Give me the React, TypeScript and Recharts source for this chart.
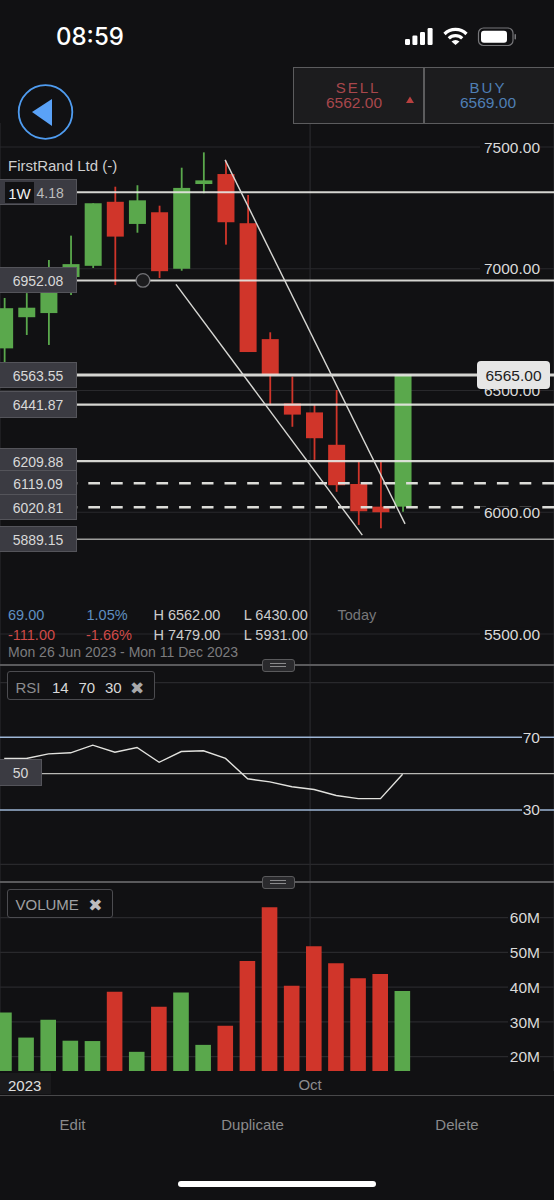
import React from "react";
import {
  Bar,
  BarChart,
  CartesianGrid,
  Cell,
  ComposedChart,
  Line,
  LineChart,
  ReferenceDot,
  ReferenceLine,
  XAxis,
  YAxis,
} from "recharts";

// weekly candles
const opens = [6673, 6801, 6818, 6966, 7012, 7275, 7184, 7232, 7000, 7348, 7389, 7187, 6711, 6447, 6410, 6277, 6116, 6023, 6023];
const highs = [6880, 6900, 7036, 7136, 7269, 7337, 7343, 7259, 7415, 7478, 7444, 7303, 6739, 6557, 6440, 6502, 6208, 6208, 6565];
const lows = [6613, 6728, 6687, 6892, 7003, 6933, 7148, 6962, 6992, 7310, 7099, 6658, 6440, 6351, 6215, 6084, 5948, 5934, 6002];
const closes = [6838, 6840, 6941, 7019, 7269, 7132, 7281, 6990, 7332, 7363, 7191, 6658, 6564, 6401, 6304, 6111, 6004, 6000, 6565];
const volumes = [32.7, 25.5, 30.6, 24.6, 24.5, 38.7, 21.4, 34.4, 38.5, 23.4, 28.9, 47.5, 63, 40.4, 51.8, 46.9, 42.6, 43.8, 38.9];
const rsiValues = [58.3, 58.3, 60.8, 61.4, 65.6, 61.7, 64.3, 56.2, 62.1, 62.5, 58.3, 47.1, 45.4, 42.7, 41.2, 37.9, 36.2, 36.2, 49.6];

const priceTicks = [5500, 6000, 6500, 7000, 7500];
const rsiTicks = [30, 70];
const rsiGrid = [0, 100];
const volumeTicks = [20, 30, 40, 50, 60];
const octTick = [13.82];

const solidLevels = [7314.18, 6952.08, 6563.55, 6441.87, 6209.88, 5889.15];
const levelWidths = [1.8, 2, 2.8, 2.3, 2.3, 1.5];
const dashedLevels = [6119.09, 6020.81];
const boxedLevels = ["6952.08", "6563.55", "6441.87", "6209.88", "6119.09", "6020.81", "5889.15"];
const boxCenters = [280, 375, 404.5, 461, 483, 507, 539];

const upperTrend = [{ x: 9.98, y: 7447 }, { x: 18.11, y: 5952 }];
const lowerTrend = [{ x: 7.76, y: 6936 }, { x: 16.18, y: 5906 }];

const BG = "#111113";
const GREEN = "#5aa84c";
const RED = "#d0352a";
const GRID = "#29292c";
const FONT = '"Liberation Sans", Arial, sans-serif';
const xDomain: [number, number] = [-0.19, 24.84];

const candles = opens.map((open, i) => ({
  x: i,
  open,
  high: highs[i],
  low: lows[i],
  close: closes[i],
}));
const volumeRows = volumes.map((volume, i) => ({ x: i, volume, up: closes[i] >= opens[i] }));
const rsiRows = rsiValues.map((rsi, i) => ({ x: i, rsi }));

function Candle(props: any) {
  const { x, y, width, height, payload } = props;
  const perUnit = height / (payload.high - payload.low);
  const top = y + (payload.high - Math.max(payload.open, payload.close)) * perUnit;
  const bottom = y + (payload.high - Math.min(payload.open, payload.close)) * perUnit;
  const color = payload.close >= payload.open ? GREEN : RED;
  return (
    <g>
      <rect x={x + width / 2 - 0.9} y={y} width={1.8} height={height} fill={color} />
      <rect x={x} y={top} width={width} height={Math.max(bottom - top, 2)} fill={color} />
    </g>
  );
}

function AxisTick(props: any) {
  const { x, y, payload, suffix = "", digits = 0, boxWidth = 60 } = props;
  return (
    <g>
      <rect x={x - boxWidth} y={y - 6} width={boxWidth} height={12} fill={BG} />
      <text x={x} y={y} dy="0.36em" textAnchor="end" fontSize={15.5} fontFamily={FONT} fill="#dadada">
        {payload.value.toFixed(digits)}
        {suffix}
      </text>
    </g>
  );
}

function T({ x, y, children, color = "#ccc", size = 14.5, anchor = "left", style }: any) {
  const shift = anchor === "center" ? "-50%" : anchor === "right" ? "-100%" : "0";
  return (
    <div
      style={{
        position: "absolute",
        left: x,
        top: y,
        transform: `translate(${shift}, -50%)`,
        color,
        fontSize: size,
        lineHeight: 1,
        whiteSpace: "nowrap",
        fontFamily: FONT,
        ...style,
      }}
    >
      {children}
    </div>
  );
}

function Box({ x, y, w, h, style, children }: any) {
  return (
    <div
      style={{
        position: "absolute",
        left: x,
        top: y,
        width: w,
        height: h,
        boxSizing: "border-box",
        ...style,
      }}
    >
      {children}
    </div>
  );
}

function Handle({ y }: { y: number }) {
  return (
    <>
      <Box x={0} y={y - 0.75} w={554} h={1.5} style={{ background: "#5a5a5c" }} />
      <Box
        x={261.5}
        y={y - 6.5}
        w={33}
        h={13}
        style={{ background: "#2a2a2d", border: "1.5px solid #5a5a5c", borderRadius: 3 }}
      />
      <Box x={270} y={y - 2.5} w={16} h={1.3} style={{ background: "#8a8a8c" }} />
      <Box x={270} y={y + 1} w={16} h={1.3} style={{ background: "#8a8a8c" }} />
    </>
  );
}

function LevelBox({ center, children }: any) {
  return (
    <Box
      x={0}
      y={center - 13.3}
      w={77}
      h={26.6}
      style={{ background: "#3b3b42", border: "1px solid #54545a", borderLeft: "none" }}
    >
      {children}
    </Box>
  );
}

export default function App() {
  return (
    <div
      style={{
        position: "absolute",
        left: 0,
        top: 0,
        width: 554,
        height: 1200,
        background: BG,
        overflow: "hidden",
      }}
    >
      {/* price pane */}
      <div style={{ position: "absolute", left: 0, top: 123 }}>
        <ComposedChart width={554} height={542} data={candles} margin={{ top: 0, right: 0, bottom: 0, left: 0 }}>
          <CartesianGrid stroke={GRID} strokeWidth={1.2} horizontalValues={priceTicks} />
          <XAxis dataKey="x" type="number" domain={xDomain} ticks={octTick} hide />
          <YAxis
            orientation="right"
            mirror
            domain={[5372.6, 7598.6]}
            ticks={priceTicks}
            axisLine={false}
            tickLine={false}
            tickSize={0}
            tickMargin={14}
            tick={<AxisTick digits={2} />}
          />
          <Bar
            dataKey={(d: any) => [d.low, d.high]}
            barSize={17}
            shape={<Candle />}
            isAnimationActive={false}
          />
          {solidLevels.map((level, i) => (
            <ReferenceLine
              key={level}
              y={level}
              stroke={i === 5 ? "#aaaaa8" : "#e6e6e2"}
              strokeOpacity={0.92}
              strokeWidth={levelWidths[i]}
            />
          ))}
          {dashedLevels.map((level) => (
            <ReferenceLine
              key={level}
              y={level}
              stroke="#dcdcd8"
              strokeWidth={2.5}
              strokeDasharray="11.7 11"
            />
          ))}
          <ReferenceLine segment={upperTrend} stroke="#d8d8d4" strokeWidth={1.4} />
          <ReferenceLine segment={lowerTrend} stroke="#d8d8d4" strokeWidth={1.4} />
          <ReferenceDot x={6.27} y={6952.08} r={6.8} fill="#1c1c1e" stroke="#727276" strokeWidth={1.3} />
        </ComposedChart>
      </div>

      {/* rsi pane */}
      <div style={{ position: "absolute", left: 0, top: 665 }}>
        <LineChart width={554} height={217} data={rsiRows} margin={{ top: 0, right: 0, bottom: 0, left: 0 }}>
          <CartesianGrid stroke={GRID} strokeWidth={1.2} horizontalValues={rsiGrid} />
          <XAxis dataKey="x" type="number" domain={xDomain} ticks={octTick} hide />
          <YAxis
            orientation="right"
            mirror
            domain={[-9.67, 109.7]}
            ticks={rsiTicks}
            axisLine={false}
            tickLine={false}
            tickSize={0}
            tickMargin={14}
            tick={<AxisTick boxWidth={18} />}
          />
          <ReferenceLine y={70} stroke="#9db6d6" strokeWidth={1.5} />
          <ReferenceLine y={30} stroke="#9db6d6" strokeWidth={1.5} />
          <ReferenceLine y={50} stroke="#b8b8b4" strokeWidth={1.3} />
          <Line dataKey="rsi" stroke="#e2e2de" strokeWidth={1.4} dot={false} isAnimationActive={false} />
        </LineChart>
      </div>

      {/* volume pane */}
      <div style={{ position: "absolute", left: 0, top: 882 }}>
        <BarChart width={554} height={213} data={volumeRows} margin={{ top: 0, right: 0, bottom: 0, left: 0 }}>
          <CartesianGrid stroke={GRID} strokeWidth={1.2} horizontalValues={volumeTicks} />
          <XAxis
            dataKey="x"
            type="number"
            domain={xDomain}
            ticks={octTick}
            height={24}
            axisLine={false}
            tickLine={false}
            tickFormatter={() => "Oct"}
            tick={{ fill: "#8c8c8e", fontSize: 15, fontFamily: FONT }}
          />
          <YAxis
            orientation="right"
            mirror
            domain={[15.88, 70.27]}
            ticks={volumeTicks}
            axisLine={false}
            tickLine={false}
            tickSize={0}
            tickMargin={14}
            tick={<AxisTick suffix="M" boxWidth={32} />}
          />
          <Bar dataKey="volume" barSize={15.6} isAnimationActive={false}>
            {volumeRows.map((row) => (
              <Cell key={row.x} fill={row.up ? GREEN : RED} />
            ))}
          </Bar>
        </BarChart>
      </div>

      {/* status bar */}
      <T x={56} y={37} size={24} color="#fff" style={{ fontFamily: "Inter", fontWeight: 500 }}>
        08:59
      </T>
      <svg style={{ position: "absolute", left: 0, top: 0 }} width={554} height={145}>
        <rect x={405} y={39} width={5} height={6} rx={1.2} fill="#fff" />
        <rect x={412.4} y={35.5} width={5} height={9.5} rx={1.2} fill="#fff" />
        <rect x={420} y={32} width={5} height={13} rx={1.2} fill="#fff" />
        <rect x={427.6} y={28} width={5} height={17} rx={1.2} fill="#fff" />
        <path d="M444.5 34 A15.5 15.5 0 0 1 466.5 34" stroke="#fff" strokeWidth={3.2} fill="none" />
        <path d="M448.8 38.3 A9.5 9.5 0 0 1 462.2 38.3" stroke="#fff" strokeWidth={3.2} fill="none" />
        <path d="M455.5 45 L451.5 41.5 A6 6 0 0 1 459.5 41.5 Z" fill="#fff" />
        <rect x={478.5} y={28} width={34.5} height={17.5} rx={5} stroke="#77777a" strokeWidth={1.2} fill="none" />
        <rect x={481} y={30.7} width={26} height={12} rx={3} fill="#fff" />
        <rect x={514.5} y={34} width={1.5} height={5.5} rx={0.7} fill="#77777a" />
        {/* back button */}
        <circle cx={45.5} cy={112} r={26.8} stroke="#4f9cf0" strokeWidth={1.8} fill="none" />
        <path d="M32 112 L52 99 L52 126 Z" fill="#5aa2f7" />
      </svg>

      {/* sell / buy */}
      <Box x={293} y={67} w={262} h={57} style={{ background: "#1c1c1e", border: "1.5px solid #5c5c5e" }} />
      <Box x={423} y={67} w={1.5} h={57} style={{ background: "#5c5c5e" }} />
      <T x={358} y={87} anchor="center" size={15} color="#a8474c" style={{ letterSpacing: 2 }}>
        SELL
      </T>
      <T x={354} y={103} anchor="center" size={15.5} color="#a8474c">
        6562.00
      </T>
      <svg style={{ position: "absolute", left: 405, top: 96 }} width={10} height={8}>
        <path d="M5 0.5 L9 7 L1 7 Z" fill="#b8403f" />
      </svg>
      <T x={488} y={87} anchor="center" size={15} color="#4f7fb5" style={{ letterSpacing: 2 }}>
        BUY
      </T>
      <T x={488} y={103} anchor="center" size={15.5} color="#4f7fb5">
        6569.00
      </T>

      {/* instrument title and level tags */}
      <T x={8} y={165} size={15} color="#cfcfcf">
        FirstRand Ltd (-)
      </T>
      <LevelBox center={192}>
        <Box x={5} y={2.5} w={29} h={21} style={{ background: "#111113" }} />
        <T x={19.5} y={13} anchor="center" size={15} color="#f0f0f0">
          1W
        </T>
        <T x={36.5} y={13} size={14} color="#bdbdbd">
          4.18
        </T>
      </LevelBox>
      {boxedLevels.map((label, i) => (
        <LevelBox key={label} center={boxCenters[i]}>
          <T x={38} y={13} anchor="center" size={14} color="#d8d8d8">
            {label}
          </T>
        </LevelBox>
      ))}
      <Box
        x={477}
        y={361}
        w={73}
        h={28}
        style={{ background: "#e6e6e6", borderRadius: 4 }}
      />
      <T x={513.5} y={375.5} anchor="center" size={15.5} color="#222">
        6565.00
      </T>

      {/* ohlc summary */}
      <T x={8} y={615} color="#5f8fc0">69.00</T>
      <T x={86.5} y={615} color="#5f8fc0">1.05%</T>
      <T x={153.4} y={615}>H 6562.00</T>
      <T x={243.8} y={615}>L 6430.00</T>
      <T x={337.5} y={615} color="#78787a">Today</T>
      <T x={8} y={634.7} color="#d04a48">-111.00</T>
      <T x={86} y={634.7} color="#d04a48">-1.66%</T>
      <T x={153.4} y={634.7}>H 7479.00</T>
      <T x={243.8} y={634.7}>L 5931.00</T>
      <T x={8} y={652} color="#7c7c7e" size={14}>
        Mon 26 Jun 2023 - Mon 11 Dec 2023
      </T>

      {/* pane dividers and indicator tags */}
      <Handle y={665} />
      <Handle y={882} />
      <Box
        x={6.5}
        y={671}
        w={148}
        h={29}
        style={{ background: BG, border: "1.5px solid #4c4c50", borderRadius: 3 }}
      />
      <T x={15.5} y={687} size={15} color="#8c8c8e">RSI</T>
      <T x={52} y={687} size={15} color="#d8d8d8">14</T>
      <T x={78.4} y={687} size={15} color="#d8d8d8">70</T>
      <T x={105} y={687} size={15} color="#d8d8d8">30</T>
      <T x={137} y={688} size={17} anchor="center" color="#a8a8aa" style={{ fontFamily: "DejaVu Sans" }}>✖</T>
      <Box
        x={0}
        y={759}
        w={41.5}
        h={27}
        style={{ background: "#3b3b42", border: "1px solid #54545a", borderLeft: "none" }}
      />
      <T x={20.5} y={772.5} anchor="center" size={14} color="#d8d8d8">50</T>

      <Box
        x={6.5}
        y={889}
        w={106}
        h={29}
        style={{ background: BG, border: "1.5px solid #4c4c50", borderRadius: 3 }}
      />
      <T x={15.5} y={904} size={15} color="#a0a0a2">VOLUME</T>
      <T x={95.4} y={905} size={17} anchor="center" color="#bcbcbe" style={{ fontFamily: "DejaVu Sans" }}>✖</T>

      <Box x={0} y={1073} w={51} h={21} style={{ background: "#1a1a1c" }} />
      <T x={8} y={1085} size={15} color="#e0e0e0">2023</T>
      <Box x={0} y={1094.5} w={554} h={1.5} style={{ background: "#48484a" }} />

      {/* bottom actions */}
      <T x={72.5} y={1124} anchor="center" size={15} color="#8a8a8c">Edit</T>
      <T x={252.5} y={1124} anchor="center" size={15} color="#8a8a8c">Duplicate</T>
      <T x={457} y={1124} anchor="center" size={15} color="#8a8a8c">Delete</T>
      <Box x={178} y={1181} w={198} h={6} style={{ background: "#fff", borderRadius: 3 }} />
    </div>
  );
}
